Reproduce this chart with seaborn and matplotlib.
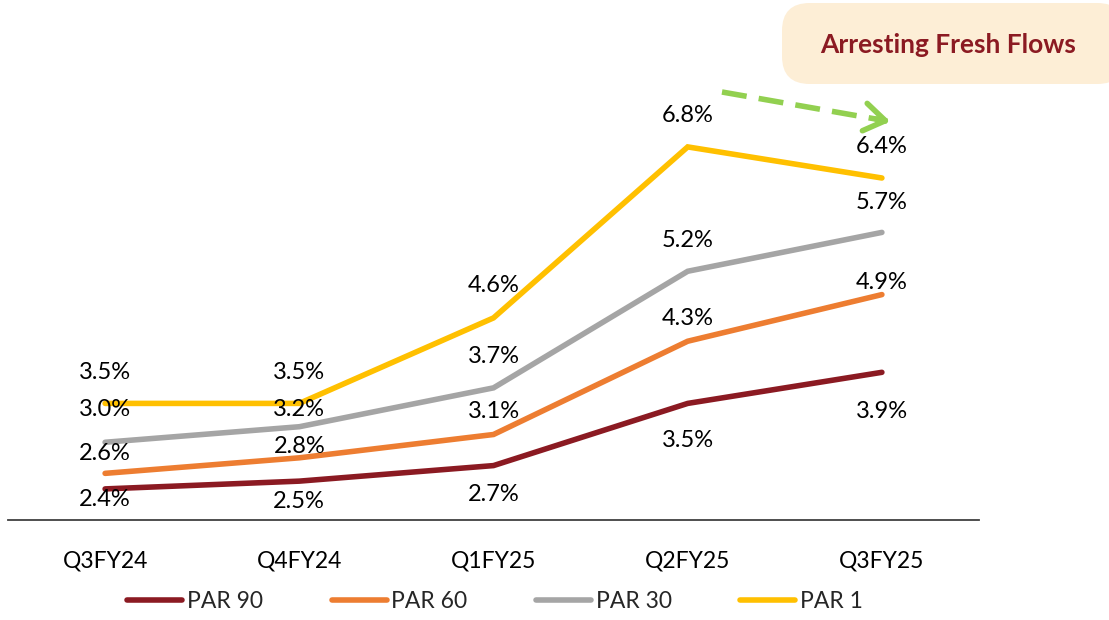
import matplotlib
matplotlib.use("Agg")
import matplotlib.pyplot as plt
import seaborn as sns
import pandas as pd
from matplotlib.patches import FancyBboxPatch, FancyArrowPatch
from matplotlib.lines import Line2D

quarters = ["Q3FY24", "Q4FY24", "Q1FY25", "Q2FY25", "Q3FY25"]
par90 = [2.4, 2.5, 2.7, 3.5, 3.9]
par60 = [2.6, 2.8, 3.1, 4.3, 4.9]
par30 = [3.0, 3.2, 3.7, 5.2, 5.7]
par1 = [3.5, 3.5, 4.6, 6.8, 6.4]
series_names = ["PAR 90", "PAR 60", "PAR 30", "PAR 1"]
title_text = "Arresting Fresh Flows"

colors = {"PAR 90": "#8B1A22", "PAR 60": "#ED7D31", "PAR 30": "#A5A5A5", "PAR 1": "#FFC000"}
# label offsets in pixels (positive = above)
label_offsets = {
    "PAR 90": [-11, -20, -29, -37, -39],
    "PAR 60": [20, 11, 23, 23, 12],
    "PAR 30": [33, 17, 31, 31, 30],
    "PAR 1": [31, 31, 32, 31, 31],
}

sns.set_theme(style="white")
plt.rcParams["font.family"] = ["Lato", "DejaVu Sans"]

values = {"PAR 90": par90, "PAR 60": par60, "PAR 30": par30, "PAR 1": par1}
rows = []
for name in series_names:
    for i, q in enumerate(quarters):
        rows.append({"Quarter": q, "x": i, "Series": name, "Value": values[name][i]})
df = pd.DataFrame(rows)

fig = plt.figure(figsize=(11.09, 6.2), dpi=100)
ax = fig.add_axes([8 / 1109, 1 - 520 / 620, (979 - 8) / 1109, 520 / 620])

sns.lineplot(data=df, x="x", y="Value", hue="Series", hue_order=series_names,
             palette=colors, linewidth=4.0, ax=ax, legend=False, sort=False)
for line in ax.lines:
    line.set_solid_capstyle("round")
    line.set_solid_joinstyle("miter")

for name in series_names:
    for i, v in enumerate(values[name]):
        ax.annotate(f"{v:.1f}%", (i, v), xytext=(0, label_offsets[name][i]),
                    textcoords="offset pixels", ha="center", va="center",
                    fontsize=17, color="#000000")

ax.set_xlim(-0.5, 4.5)
ax.set_ylim(2.0, 8.69)
ax.set_xticks(range(len(quarters)))
ax.set_xticklabels(quarters, fontsize=16.5, color="#000000")
ax.tick_params(axis="x", length=0, pad=22)
ax.set_yticks([])
ax.set_xlabel("")
ax.set_ylabel("")
for s in ["top", "right", "left"]:
    ax.spines[s].set_visible(False)
ax.spines["bottom"].set_color("#404040")
ax.spines["bottom"].set_linewidth(1.3)

# legend
handles = [Line2D([0], [0], color=colors[n], lw=4.0, solid_capstyle="round") for n in series_names]
leg = fig.legend(handles, series_names, loc="center", bbox_to_anchor=(495 / 1109, 1 - 602 / 620),
                 ncol=4, frameon=False, fontsize=16.5, handlelength=2.4, handletextpad=0.2,
                 columnspacing=3.0)

# title box
box = FancyBboxPatch((782 / 1109, 1 - 84 / 620), (1125 - 782) / 1109, (84 - 3) / 620,
                     boxstyle="round,pad=0,rounding_size=0.025", transform=fig.transFigure,
                     facecolor="#FDEED6", edgecolor="none", mutation_aspect=1109 / 620)
fig.patches.append(box)
fig.text(948 / 1109, 1 - 45 / 620, title_text, ha="center", va="center", fontsize=19,
         fontweight="bold", color="#8B1A22")

# green dashed arrow: dashed shaft + solid open head
x0, y0, x1, y1 = 722, 92, 893, 122
W, H = 1109, 620
fig.add_artist(Line2D([x0 / W, (x1 - 6) / W], [1 - y0 / H, 1 - (y1 - 1) / H],
                      transform=fig.transFigure, color="#92D050", lw=4,
                      linestyle=(0, (4.5, 2.2)), dash_capstyle="butt"))
fig.add_artist(FancyArrowPatch(
    ((x1 - 20) / W, 1 - (y1 - 3.5) / H), (x1 / W, 1 - y1 / H), transform=fig.transFigure,
    arrowstyle="->,head_length=15,head_width=10", color="#92D050", lw=4,
    mutation_scale=1, capstyle="round", joinstyle="round"))

fig.savefig("out.png", dpi=100)
